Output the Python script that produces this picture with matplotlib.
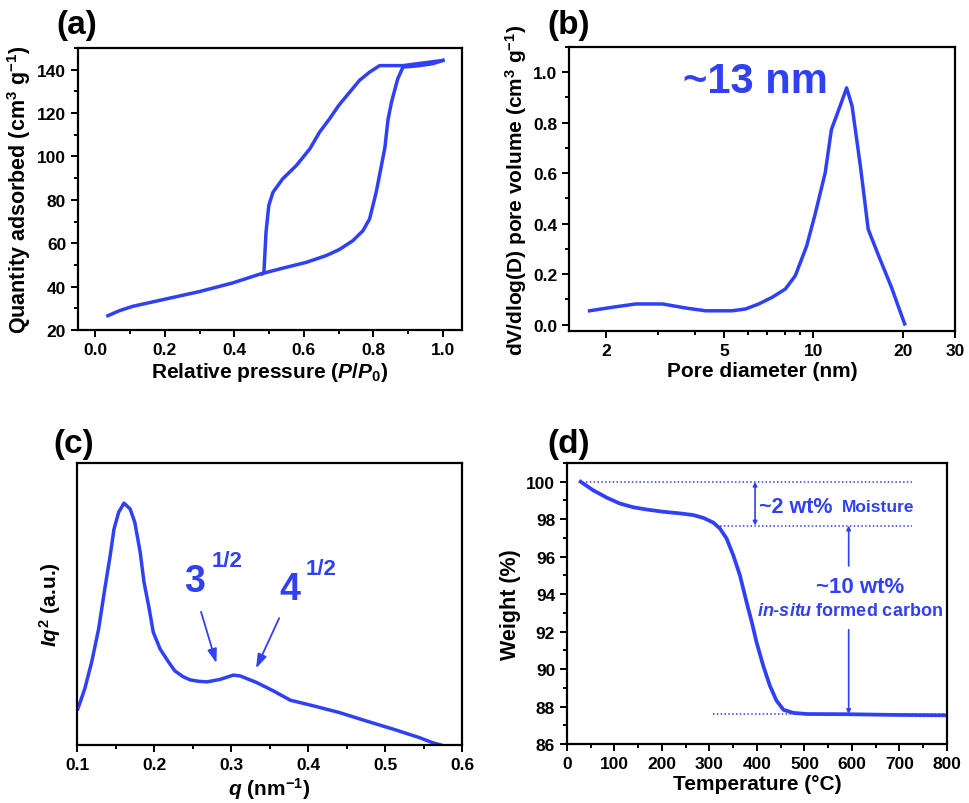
#!/usr/bin/env python3
"""
Four-panel characterisation figure: N2 isotherm, pore size distribution,
SAXS profile and TGA curve.
"""

import matplotlib
matplotlib.use('Agg')
import matplotlib.pyplot as plt
from matplotlib.ticker import MultipleLocator, FixedLocator, NullFormatter

# ---- data ----
# (a) N2 sorption isotherm
ads_p = [0.036, 0.069, 0.107, 0.203, 0.299, 0.395, 0.472, 0.539, 0.607, 0.664,
         0.702, 0.741, 0.770, 0.789, 0.808, 0.822, 0.833, 0.842, 0.852, 0.870,
         0.885, 0.933, 0.971, 1.0]
ads_q = [26.6, 28.9, 30.9, 34.3, 37.7, 41.7, 45.7, 48.5, 51.2, 54.3,
         57.1, 61.2, 65.8, 71.2, 83.5, 95.0, 104.0, 117.0, 125.0, 135.8,
         141.2, 141.9, 142.8, 144.3]
des_p = [1.0, 0.885, 0.818, 0.789, 0.760, 0.732, 0.700, 0.674, 0.645, 0.617,
         0.578, 0.539, 0.511, 0.499, 0.491, 0.487, 0.485, 0.480]
des_q = [144.3, 141.9, 141.9, 138.9, 135.1, 129.7, 123.5, 117.4, 111.2, 103.5,
         95.8, 89.7, 83.5, 77.4, 65.1, 52.8, 46.6, 45.9]

# (b) pore size distribution
pore_d = [1.76, 2.10, 2.52, 3.10, 3.71, 4.33, 5.32, 5.90, 6.54, 7.25, 8.04,
          8.69, 9.49, 10.1, 10.96, 11.5, 12.3, 12.94, 13.5, 14.4, 15.3, 16.5,
          18.3, 20.3]
pore_v = [0.055, 0.069, 0.082, 0.082, 0.066, 0.055, 0.055, 0.062, 0.082, 0.108,
          0.141, 0.194, 0.312, 0.431, 0.602, 0.773, 0.866, 0.938, 0.866, 0.628,
          0.378, 0.28, 0.15, 0.003]

# (c) SAXS, Iq^2 in arbitrary units
saxs_q = [0.101, 0.110, 0.119, 0.128, 0.136, 0.143, 0.148, 0.154, 0.161, 0.169,
          0.175, 0.182, 0.187, 0.193, 0.199, 0.208, 0.219, 0.227, 0.238, 0.247,
          0.258, 0.269, 0.286, 0.303, 0.312, 0.333, 0.355, 0.377, 0.407, 0.441,
          0.476, 0.511, 0.545, 0.562, 0.578]
saxs_i = [0.128, 0.199, 0.294, 0.411, 0.553, 0.671, 0.766, 0.825, 0.858, 0.837,
          0.790, 0.684, 0.577, 0.494, 0.400, 0.340, 0.294, 0.263, 0.242, 0.231,
          0.226, 0.224, 0.233, 0.248, 0.245, 0.222, 0.192, 0.159, 0.139, 0.115,
          0.085, 0.056, 0.026, 0.008, -0.004]

# (d) TGA
tga_t = [28.8, 54.8, 83, 111, 139, 167, 202, 238, 266, 287, 308, 322, 336,
         350, 364, 378, 389, 399, 413, 427, 441, 456, 477, 505, 589, 694, 800]
tga_w = [100.0, 99.55, 99.16, 98.84, 98.64, 98.52, 98.40, 98.31, 98.22, 98.07,
         97.82, 97.50, 96.97, 96.08, 95.01, 93.58, 92.51, 91.44, 90.19, 89.12,
         88.32, 87.82, 87.66, 87.60, 87.59, 87.55, 87.53]
tga_levels = [100.0, 97.66, 87.6]

BLUE = '#3040F5'

plt.rcParams['font.family'] = ['Liberation Sans', 'DejaVu Sans']
plt.rcParams['font.weight'] = 'bold'
plt.rcParams['axes.labelweight'] = 'bold'
plt.rcParams['mathtext.fontset'] = 'custom'
plt.rcParams['mathtext.rm'] = 'Liberation Sans:bold'
plt.rcParams['mathtext.bf'] = 'Liberation Sans:bold'
plt.rcParams['mathtext.it'] = 'Liberation Sans:italic:bold'


def style_axes(ax):
    for sp in ax.spines.values():
        sp.set_linewidth(1.6)
    ax.tick_params(which='both', direction='out', width=1.4, labelsize=12.5,
                   top=False, right=False)
    ax.tick_params(which='major', length=5)
    ax.tick_params(which='minor', length=3)


fig = plt.figure(figsize=(9.69, 8.04), dpi=100)

# ---- (a) ----
ax = fig.add_axes([0.0805, 0.5883, 0.3963, 0.3507])
ax.plot(ads_p, ads_q, color=BLUE, lw=2.5)
ax.plot(des_p, des_q, color=BLUE, lw=2.5)
ax.set_xlim(-0.05, 1.055)
ax.set_ylim(20, 150)
ax.xaxis.set_major_locator(MultipleLocator(0.2))
ax.xaxis.set_minor_locator(MultipleLocator(0.1))
ax.yaxis.set_major_locator(MultipleLocator(20))
ax.yaxis.set_minor_locator(MultipleLocator(10))
ax.set_xlabel(r'Relative pressure ($\it{P/P_0}$)', fontsize=15, labelpad=2)
ax.set_ylabel(r'Quantity adsorbed (cm$^3$ g$^{-1}$)', fontsize=15.5, labelpad=3)
style_axes(ax)
fig.text(0.058, 0.958, '(a)', fontsize=24, fontweight='bold')

# ---- (b) ----
ax = fig.add_axes([0.5872, 0.5871, 0.3983, 0.3532])
ax.plot(pore_d, pore_v, color=BLUE, lw=2.5)
ax.set_xscale('log')
ax.set_xlim(1.5, 30)
ax.set_ylim(-0.025, 1.1)
ax.xaxis.set_major_locator(FixedLocator([2, 5, 10, 20, 30]))
ax.xaxis.set_minor_locator(FixedLocator([3, 4, 6, 7, 8, 9]))
ax.xaxis.set_minor_formatter(NullFormatter())
ax.set_xticklabels(['2', '5', '10', '20', '30'])
ax.yaxis.set_major_locator(MultipleLocator(0.2))
ax.yaxis.set_minor_locator(MultipleLocator(0.1))
ax.set_xlabel('Pore diameter (nm)', fontsize=15, labelpad=2)
ax.set_ylabel(r'dV/dlog(D) pore volume (cm$^3$ g$^{-1}$)', fontsize=15, labelpad=3)
style_axes(ax)
ax.text(6.4, 0.965, '~13 nm', color=BLUE, fontsize=30, fontweight='bold',
        ha='center', va='center')
fig.text(0.565, 0.958, '(b)', fontsize=24, fontweight='bold')

# ---- (c) ----
ax = fig.add_axes([0.0795, 0.0721, 0.3973, 0.3507])
ax.plot(saxs_q, saxs_i, color=BLUE, lw=2.5)
ax.set_xlim(0.1, 0.6)
ax.set_ylim(0, 1)
ax.xaxis.set_major_locator(MultipleLocator(0.1))
ax.xaxis.set_minor_locator(MultipleLocator(0.05))
ax.set_yticks([])
ax.set_xlabel(r'$\it{q}$ (nm$^{-1}$)', fontsize=15, labelpad=2)
ax.set_ylabel(r'$\it{Iq}^2$ (a.u.)', fontsize=15, labelpad=10)
style_axes(ax)
ax.text(0.253, 0.545, '3', color=BLUE, fontsize=27, fontweight='bold',
        ha='center', va='baseline')
ax.text(0.275, 0.635, '1/2', color=BLUE, fontsize=16, fontweight='bold',
        ha='left', va='baseline')
ax.text(0.377, 0.517, '4', color=BLUE, fontsize=27, fontweight='bold',
        ha='center', va='baseline')
ax.text(0.397, 0.608, '1/2', color=BLUE, fontsize=16, fontweight='bold',
        ha='left', va='baseline')
ax.annotate('', xy=(0.282, 0.281), xytext=(0.260, 0.482),
            arrowprops=dict(arrowstyle='-|>,head_length=0.6,head_width=0.2',
                            color=BLUE, lw=1.3, mutation_scale=14))
ax.annotate('', xy=(0.331, 0.263), xytext=(0.364, 0.459),
            arrowprops=dict(arrowstyle='-|>,head_length=0.6,head_width=0.2',
                            color=BLUE, lw=1.3, mutation_scale=14))
fig.text(0.055, 0.437, '(c)', fontsize=24, fontweight='bold')

# ---- (d) ----
ax = fig.add_axes([0.5851, 0.0734, 0.3922, 0.3495])
ax.plot(tga_t, tga_w, color=BLUE, lw=2.7)
ax.set_xlim(0, 800)
ax.set_ylim(86, 101)
ax.xaxis.set_major_locator(MultipleLocator(100))
ax.xaxis.set_minor_locator(MultipleLocator(50))
ax.yaxis.set_major_locator(MultipleLocator(2))
ax.yaxis.set_minor_locator(MultipleLocator(1))
ax.set_xlabel('Temperature (\u00b0C)', fontsize=15, labelpad=2)
ax.set_ylabel('Weight (%)', fontsize=15.5, labelpad=4)
style_axes(ax)
ax.hlines(tga_levels[0], 41, 726, colors=BLUE, linestyles=(0, (1, 1.5)), lw=1.1)
ax.hlines(tga_levels[1], 322, 726, colors=BLUE, linestyles=(0, (1, 1.5)), lw=1.1)
ax.hlines(tga_levels[2], 308, 800, colors=BLUE, linestyles=(0, (1, 1.5)), lw=1.1)
ax.annotate('', xy=(396, tga_levels[0]), xytext=(396, tga_levels[1]),
            arrowprops=dict(arrowstyle='<|-|>', color=BLUE, lw=1.2,
                            mutation_scale=6, shrinkA=0, shrinkB=0))
ax.annotate('', xy=(593, tga_levels[1]), xytext=(593, 95.5),
            arrowprops=dict(arrowstyle='-|>', color=BLUE, lw=1.2,
                            mutation_scale=6, shrinkA=0, shrinkB=0))
ax.annotate('', xy=(593, tga_levels[2]), xytext=(593, 92.1),
            arrowprops=dict(arrowstyle='-|>', color=BLUE, lw=1.2,
                            mutation_scale=6, shrinkA=0, shrinkB=0))
ax.text(405, 98.7, '~2 wt%', color=BLUE, fontsize=15.5, fontweight='bold',
        ha='left', va='center')
ax.text(578, 98.7, 'Moisture', color=BLUE, fontsize=12.5, fontweight='bold',
        ha='left', va='center')
ax.text(617, 94.4, '~10 wt%', color=BLUE, fontsize=16, fontweight='bold',
        ha='center', va='center')
ax.text(596, 93.1, r'$\it{in}$-$\it{situ}$ formed carbon', color=BLUE,
        fontsize=13, fontweight='bold', ha='center', va='center')
fig.text(0.565, 0.437, '(d)', fontsize=24, fontweight='bold')

plt.savefig('out.png', dpi=100, facecolor='white')
plt.close()
